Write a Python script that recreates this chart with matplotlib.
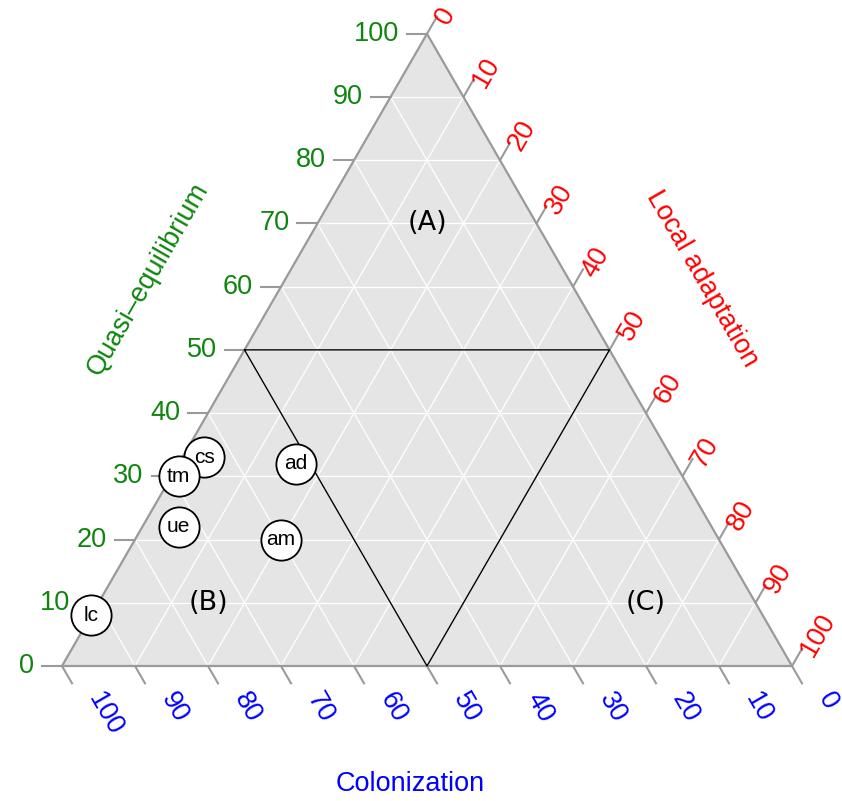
import numpy as np
import matplotlib
matplotlib.use("Agg")
import matplotlib.pyplot as plt

# ternary data: (Colonization, Quasi-equilibrium, Local adaptation) in %
names = ["lc", "cs", "tm", "ad", "ue", "am"]
colon = [92, 64, 69, 52, 73, 60]
quasi = [8, 33, 30, 32, 22, 20]
local = [0, 3, 1, 16, 5, 20]

region_names = ["(A)", "(B)", "(C)"]
region_colon = [15, 75, 15]
region_quasi = [70, 10, 10]
region_local = [15, 15, 75]

ticks = list(range(0, 101, 10))

S3 = np.sqrt(3) / 2
PX = 1 / 730.0  # one pixel in triangle units


def tern(c, q, l):
    tot = np.asarray(c, float) + np.asarray(q, float) + np.asarray(l, float)
    q = np.asarray(q, float) / tot
    l = np.asarray(l, float) / tot
    return l + q / 2, q * S3


fig = plt.figure(figsize=(8.42, 8.01), dpi=100)
ax = fig.add_axes([0, 0, 1, 1])
ax.set_xlim(-62 * PX, (842 - 62) * PX)
ax.set_ylim(-(801 - 666) * PX, 666 * PX)
ax.axis("off")

tick_font = "Liberation Sans"
fs = 19.5
green, red, blue = "#0f850f", "#ff0000", "#0000ff"
gray = "#9a9a9a"

# panel background
bx, by = tern([100, 0, 0], [0, 100, 0], [0, 0, 100])
ax.fill(bx, by, color="#e5e5e5", zorder=0)

# white grid
for v in ticks[1:-1]:
    for c, q, l in [([100 - v, 0], [v, v], [0, 100 - v]),
                    ([100 - v, 0], [0, 100 - v], [v, v]),
                    ([v, v], [100 - v, 0], [0, 100 - v])]:
        gx, gy = tern(c, q, l)
        ax.plot(gx, gy, color="white", lw=0.9, zorder=1)

# outline
ax.plot(list(bx) + [bx[0]], list(by) + [by[0]], color=gray, lw=1.6, zorder=2)

# axis ticks and labels
L = 20 * PX
for v in ticks:
    # left: Quasi-equilibrium
    x0, y0 = tern(100 - v, v, 0)
    ax.plot([x0, x0 - L], [y0, y0], color=gray, lw=1.5, zorder=2)
    ax.text(x0 - L - 8 * PX, y0, str(v), color=green, fontsize=fs,
            family=tick_font, ha="right", va="center")
    # right: Local adaptation
    x0, y0 = tern(0, 100 - v, v)
    dx, dy = np.cos(np.pi / 3) * L, np.sin(np.pi / 3) * L
    ax.plot([x0, x0 + dx], [y0, y0 + dy], color=gray, lw=1.5, zorder=2)
    ax.text(x0 + dx + 5 * PX, y0 + dy - 6 * PX, str(v), color=red,
            fontsize=fs, family=tick_font, rotation=60, rotation_mode="anchor",
            ha="left", va="center")
    # bottom: Colonization
    x0, y0 = tern(v, 0, 100 - v)
    dx, dy = np.cos(-np.pi / 3) * L, np.sin(-np.pi / 3) * L
    ax.plot([x0, x0 + dx], [y0, y0 + dy], color=gray, lw=1.5, zorder=2)
    ax.text(x0 + dx + 22 * PX, y0 + dy - 11 * PX, str(v), color=blue,
            fontsize=fs, family=tick_font, rotation=-60, rotation_mode="anchor",
            ha="left", va="center")

# axis titles
ax.text((148 - 62) * PX, (666 - 279) * PX, "Quasi\u2013equilibrium", color=green,
        fontsize=fs, family=tick_font, rotation=60, ha="center", va="center")
ax.text((702 - 62) * PX, (666 - 279) * PX, "Local adaptation", color=red,
        fontsize=fs, family=tick_font, rotation=-60, ha="center", va="center")
ax.text((410 - 62) * PX, (666 - 784) * PX, "Colonization", color=blue,
        fontsize=fs, family=tick_font, ha="center", va="center")

# region boundaries
rx, ry = tern([50, 0, 50, 50], [50, 50, 0, 50], [0, 50, 50, 0])
ax.plot(rx, ry, color="black", lw=1.0, zorder=3)

# region labels
lx, ly = tern(region_colon, region_quasi, region_local)
for name, x, y in zip(region_names, lx, ly):
    ax.text(x, y, name, fontsize=19.5, family="DejaVu Sans", ha="center",
            va="center", zorder=4)

# points
px_, py_ = tern(colon, quasi, local)
for name, x, y in zip(names, px_, py_):
    ax.scatter([x], [y], s=840, facecolor="white", edgecolor="black",
               linewidth=1.3, zorder=5)
    ax.text(x, y, name, fontsize=15, family=tick_font, ha="center",
            va="center", zorder=6)

fig.savefig("out.png", dpi=100)
